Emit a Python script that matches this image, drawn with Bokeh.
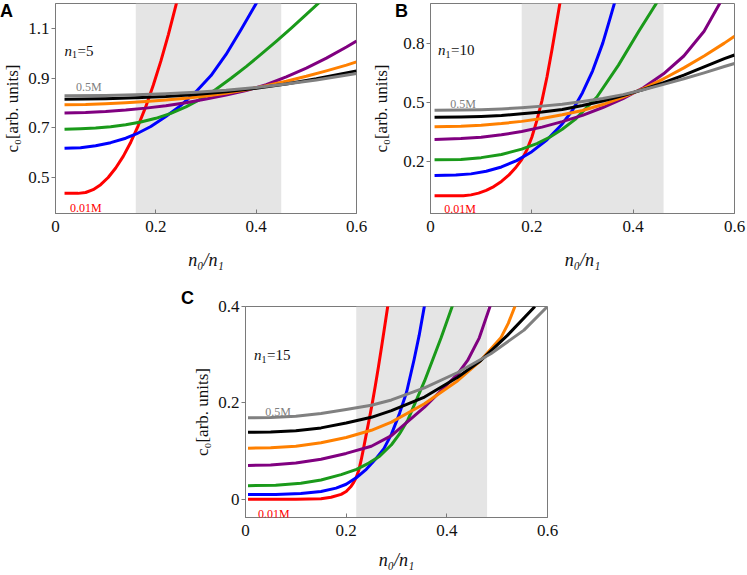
from bokeh.plotting import figure
from bokeh.models import Range1d, FixedTicker, CustomJSTickFormatter, Label, BoxAnnotation, Spacer, Div
from bokeh.layouts import row, column
from bokeh.embed import file_html
from bokeh.resources import INLINE

# ---------------- data ----------------
X_TICKS = [0, 0.2, 0.4, 0.6]
A_Y_TICKS = [0.5, 0.7, 0.9, 1.1]
B_Y_TICKS = [0.2, 0.5, 0.8]
C_Y_TICKS = [0, 0.2, 0.4]

A_SHADE = [0.16, 0.45]
B_SHADE = [0.18, 0.46]
C_SHADE = [0.22, 0.48]

PANEL_LETTERS = ["A", "B", "C"]
SERIES_LABELS = ["0.01M", "0.5M"]
N1_VALUES = ["5", "10", "15"]
COLORS = ["#ff0000", "#0000ff", "#1a9a1a", "#800080", "#ff8000", "#000000", "#808080"]

# Panel A (n1 = 5)
A_RED_X = [0.018, 0.03, 0.045, 0.06, 0.075, 0.09, 0.105, 0.12, 0.135, 0.15, 0.165, 0.18, 0.195, 0.21, 0.225, 0.24, 0.25]
A_RED_Y = [0.436, 0.436, 0.436, 0.4395, 0.451, 0.471, 0.500, 0.538, 0.585, 0.642, 0.709, 0.785, 0.872, 0.968, 1.075, 1.192, 1.275]
A_BLUE_X = [0.018, 0.05, 0.08, 0.11, 0.14, 0.161, 0.19, 0.22, 0.25, 0.28, 0.31, 0.34, 0.37, 0.40, 0.41]
A_BLUE_Y = [0.618, 0.620, 0.628, 0.640, 0.658, 0.675, 0.705, 0.745, 0.79, 0.845, 0.91, 0.995, 1.095, 1.20, 1.235]
A_GREEN_X = [0.018, 0.05, 0.08, 0.11, 0.14, 0.17, 0.20, 0.23, 0.26, 0.29, 0.32, 0.35, 0.38, 0.41, 0.44, 0.47, 0.50, 0.53, 0.545]
A_GREEN_Y = [0.694, 0.696, 0.699, 0.704, 0.712, 0.723, 0.738, 0.758, 0.784, 0.816, 0.855, 0.899, 0.946, 0.996, 1.048, 1.101, 1.156, 1.212, 1.24]
A_PURPLE_X = [0.018, 0.06, 0.10, 0.14, 0.18, 0.22, 0.26, 0.30, 0.34, 0.38, 0.42, 0.46, 0.50, 0.54, 0.58, 0.60]
A_PURPLE_Y = [0.759, 0.761, 0.765, 0.771, 0.779, 0.789, 0.801, 0.816, 0.832, 0.850, 0.873, 0.905, 0.94, 0.98, 1.025, 1.049]
A_ORANGE_X = [0.018, 0.06, 0.10, 0.14, 0.18, 0.22, 0.26, 0.30, 0.34, 0.38, 0.42, 0.46, 0.50, 0.54, 0.58, 0.60]
A_ORANGE_Y = [0.793, 0.794, 0.797, 0.801, 0.806, 0.812, 0.819, 0.828, 0.839, 0.853, 0.869, 0.887, 0.907, 0.929, 0.952, 0.965]
A_BLACK_X = [0.018, 0.10, 0.16, 0.22, 0.28, 0.34, 0.40, 0.46, 0.52, 0.60]
A_BLACK_Y = [0.815, 0.817, 0.821, 0.826, 0.834, 0.845, 0.859, 0.876, 0.897, 0.929]
A_GRAY_X = [0.018, 0.10, 0.16, 0.22, 0.28, 0.34, 0.40, 0.46, 0.52, 0.60]
A_GRAY_Y = [0.829, 0.830, 0.833, 0.837, 0.843, 0.851, 0.862, 0.876, 0.892, 0.918]

# Panel B (n1 = 10)
B_RED_X = [0.008, 0.05, 0.065, 0.08, 0.095, 0.11, 0.125, 0.14, 0.155, 0.167, 0.18, 0.19, 0.20, 0.21, 0.22, 0.23, 0.24, 0.25, 0.256]
B_RED_Y = [0.029, 0.029, 0.030, 0.034, 0.043, 0.057, 0.076, 0.102, 0.135, 0.168, 0.212, 0.26, 0.325, 0.41, 0.51, 0.63, 0.77, 0.92, 1.01]
B_BLUE_X = [0.008, 0.05, 0.08, 0.11, 0.14, 0.17, 0.20, 0.23, 0.26, 0.28, 0.30, 0.32, 0.34, 0.355, 0.364]
B_BLUE_Y = [0.132, 0.134, 0.140, 0.153, 0.175, 0.207, 0.252, 0.312, 0.392, 0.46, 0.55, 0.66, 0.80, 0.93, 1.01]
B_GREEN_X = [0.008, 0.06, 0.10, 0.14, 0.18, 0.21, 0.236, 0.26, 0.2856, 0.3284, 0.371, 0.4105, 0.448]
B_GREEN_Y = [0.211, 0.213, 0.222, 0.238, 0.265, 0.293, 0.326, 0.365, 0.415, 0.528, 0.689, 0.857, 1.01]
B_PURPLE_X = [0.008, 0.06, 0.10, 0.14, 0.18, 0.22, 0.26, 0.30, 0.34, 0.38, 0.42, 0.46, 0.50, 0.54, 0.573]
B_PURPLE_Y = [0.314, 0.318, 0.325, 0.337, 0.354, 0.376, 0.404, 0.435, 0.475, 0.52, 0.575, 0.645, 0.735, 0.86, 1.01]
B_ORANGE_X = [0.008, 0.06, 0.10, 0.14, 0.18, 0.22, 0.26, 0.30, 0.34, 0.38, 0.42, 0.46, 0.50, 0.54, 0.58, 0.60]
B_ORANGE_Y = [0.378, 0.381, 0.386, 0.394, 0.405, 0.42, 0.438, 0.46, 0.49, 0.527, 0.57, 0.62, 0.675, 0.735, 0.80, 0.835]
B_BLACK_X = [0.008, 0.06, 0.10, 0.14, 0.18, 0.22, 0.26, 0.30, 0.34, 0.38, 0.42, 0.46, 0.50, 0.54, 0.58, 0.60]
B_BLACK_Y = [0.4256, 0.427, 0.430, 0.435, 0.443, 0.452, 0.465, 0.485, 0.508, 0.535, 0.566, 0.600, 0.638, 0.68, 0.722, 0.74]
B_GRAY_X = [0.008, 0.06, 0.10, 0.14, 0.18, 0.22, 0.26, 0.30, 0.34, 0.38, 0.42, 0.46, 0.50, 0.54, 0.58, 0.60]
B_GRAY_Y = [0.461, 0.462, 0.464, 0.468, 0.474, 0.482, 0.492, 0.505, 0.52, 0.54, 0.565, 0.592, 0.62, 0.65, 0.682, 0.697]

# Panel C (n1 = 15)
C_RED_X = [0.005, 0.10, 0.15, 0.17, 0.19, 0.20, 0.21, 0.215, 0.22, 0.225, 0.23, 0.235, 0.24, 0.246, 0.252, 0.258, 0.264, 0.27, 0.276, 0.284]
C_RED_Y = [0.0, 0.0, 0.001, 0.004, 0.010, 0.016, 0.027, 0.035, 0.045, 0.060, 0.082, 0.108, 0.135, 0.167, 0.20, 0.236, 0.274, 0.314, 0.355, 0.41]
C_BLUE_X = [0.005, 0.06, 0.11, 0.15, 0.18, 0.20, 0.2206, 0.24, 0.26, 0.275, 0.29, 0.305, 0.32, 0.335, 0.345, 0.357]
C_BLUE_Y = [0.0096, 0.010, 0.012, 0.016, 0.023, 0.031, 0.045, 0.062, 0.085, 0.105, 0.135, 0.175, 0.222, 0.29, 0.34, 0.41]
C_GREEN_X = [0.005, 0.06, 0.11, 0.15, 0.19, 0.2206, 0.245, 0.265, 0.29, 0.3056, 0.3228, 0.3556, 0.3886, 0.414]
C_GREEN_Y = [0.028, 0.029, 0.033, 0.040, 0.051, 0.062, 0.075, 0.088, 0.113, 0.135, 0.165, 0.245, 0.335, 0.41]
C_PURPLE_X = [0.005, 0.05, 0.10, 0.15, 0.20, 0.25, 0.29, 0.3556, 0.4216, 0.4413, 0.4645, 0.489]
C_PURPLE_Y = [0.070, 0.071, 0.075, 0.083, 0.095, 0.110, 0.132, 0.191, 0.26, 0.288, 0.335, 0.41]
C_ORANGE_X = [0.005, 0.05, 0.10, 0.15, 0.20, 0.25, 0.29, 0.3556, 0.4216, 0.4645, 0.5073, 0.522, 0.539]
C_ORANGE_Y = [0.106, 0.107, 0.110, 0.117, 0.128, 0.143, 0.160, 0.198, 0.246, 0.285, 0.335, 0.365, 0.41]
C_BLACK_X = [0.005, 0.05, 0.10, 0.15, 0.20, 0.25, 0.29, 0.3556, 0.4216, 0.4676, 0.5203, 0.575]
C_BLACK_Y = [0.139, 0.1395, 0.142, 0.148, 0.158, 0.170, 0.184, 0.212, 0.253, 0.288, 0.34, 0.40]
C_GRAY_X = [0.005, 0.05, 0.10, 0.15, 0.20, 0.25, 0.29, 0.3556, 0.4216, 0.4874, 0.5533, 0.60]
C_GRAY_Y = [0.169, 0.1695, 0.172, 0.178, 0.186, 0.195, 0.206, 0.231, 0.263, 0.302, 0.351, 0.40]

A_CURVES = [(A_RED_X, A_RED_Y), (A_BLUE_X, A_BLUE_Y), (A_GREEN_X, A_GREEN_Y), (A_PURPLE_X, A_PURPLE_Y),
            (A_ORANGE_X, A_ORANGE_Y), (A_BLACK_X, A_BLACK_Y), (A_GRAY_X, A_GRAY_Y)]
B_CURVES = [(B_RED_X, B_RED_Y), (B_BLUE_X, B_BLUE_Y), (B_GREEN_X, B_GREEN_Y), (B_PURPLE_X, B_PURPLE_Y),
            (B_ORANGE_X, B_ORANGE_Y), (B_BLACK_X, B_BLACK_Y), (B_GRAY_X, B_GRAY_Y)]
C_CURVES = [(C_RED_X, C_RED_Y), (C_BLUE_X, C_BLUE_Y), (C_GREEN_X, C_GREEN_Y), (C_PURPLE_X, C_PURPLE_Y),
            (C_ORANGE_X, C_ORANGE_Y), (C_BLACK_X, C_BLACK_Y), (C_GRAY_X, C_GRAY_Y)]

SERIF = "Liberation Serif"
FRAME = "#7a7a7a"
TXT = "#111111"


def add_text(p, x, y, text, size, color=TXT, style="normal", font=SERIF, dx=0, dy=0):
    p.add_layout(Label(x=x, y=y, text=text, text_font=font, text_font_size=size,
                       text_color=color, text_font_style=style, x_offset=dx, y_offset=dy,
                       text_align="left", text_baseline="alphabetic"))


def make_panel(width, height, bl, br, bt, bb, yr, yticks, shade, curves,
               n1, n1_pos, m05_pos, m001_pos, ylab_standoff, xlab_standoff):
    p = figure(width=width, height=height, x_range=Range1d(0, 0.6), y_range=Range1d(yr[0], yr[1]),
               output_backend="svg", toolbar_location=None, title=None,
               min_border_left=bl, min_border_right=br, min_border_top=bt, min_border_bottom=bb)
    p.grid.visible = False
    p.outline_line_color = FRAME
    p.outline_line_width = 1
    p.background_fill_color = "white"
    p.border_fill_color = "white"
    p.add_layout(BoxAnnotation(left=shade[0], right=shade[1], fill_color="#e5e5e5", fill_alpha=1.0,
                               line_color=None, level="underlay"))
    for (xs, ys), c in zip(curves, COLORS):
        p.line(xs, ys, line_color=c, line_width=3, line_join="round")

    fmt = CustomJSTickFormatter(code="return tick === 0 ? '0' : tick.toFixed(1);")
    xa = p.xaxis[0]
    ya = p.yaxis[0]
    xa.ticker = FixedTicker(ticks=X_TICKS)
    ya.ticker = FixedTicker(ticks=yticks)
    for ax in (xa, ya):
        ax.formatter = fmt
        ax.axis_line_color = FRAME
        ax.major_tick_line_color = FRAME
        ax.minor_tick_line_color = None
        ax.major_label_text_font = SERIF
        ax.major_label_text_font_size = "17px"
        ax.major_label_text_color = TXT
        ax.axis_label_text_font = SERIF
        ax.axis_label_text_color = TXT
    xa.major_tick_in = 4
    xa.major_tick_out = 0
    xa.major_label_standoff = 7
    xa.axis_label = "n\u2080/n\u2081"
    xa.axis_label_text_font_size = "18px"
    xa.axis_label_text_font_style = "italic"
    xa.axis_label_standoff = xlab_standoff
    ya.major_tick_in = 0
    ya.major_tick_out = 4
    ya.major_label_standoff = 2
    ya.axis_label = "c\u2080[arb. units]"
    ya.axis_label_text_font_size = "17px"
    ya.axis_label_text_font_style = "normal"
    ya.axis_label_standoff = ylab_standoff

    # n1 label
    add_text(p, n1_pos[0], n1_pos[1], "n", "15px", style="italic")
    add_text(p, n1_pos[0], n1_pos[1], "1", "10px", dx=7.5, dy=-4)
    add_text(p, n1_pos[0], n1_pos[1], "=" + n1, "15px", dx=13)

    # concentration labels
    add_text(p, m05_pos[0], m05_pos[1], SERIES_LABELS[1], "12px", color="#808080")
    add_text(p, m001_pos[0], m001_pos[1], SERIES_LABELS[0], "12px", color="#ff0000")
    return p


def letter_div(text, left, top):
    return Div(text=text, width=20, height=22,
               styles={"position": "absolute", "left": f"{left}px", "top": f"{top}px",
                       "font-family": "Liberation Sans, Arial, sans-serif", "font-size": "18px",
                       "font-weight": "bold", "line-height": "18px", "color": "#000000",
                       "z-index": "10"})


# frames: A x 51-356, y 3-213 ; B x 430-734 ; C x 243-547, y 306-517
pA = make_panel(368, 280, 51, 12, 3, 67, (0.355, 1.2), A_Y_TICKS, A_SHADE, A_CURVES,
                N1_VALUES[0], (0.018, 1.009), (0.041, 0.864), (0.029, 0.378), 3, 15)
pB = make_panel(378, 280, 62, 12, 3, 67, (-0.06, 1.0), B_Y_TICKS, B_SHADE, B_CURVES,
                N1_VALUES[1], (0.015, 0.765), (0.039, 0.491), (0.027, -0.035), 9, 15)
pC = make_panel(370, 293, 53, 13, 26, 56, (-0.038, 0.4), C_Y_TICKS, C_SHADE, C_CURVES,
                N1_VALUES[2], (0.017, 0.299), (0.039, 0.18), (0.025, -0.031), 3, 11)

dA = letter_div(PANEL_LETTERS[0], -5, -3)
dB = letter_div(PANEL_LETTERS[1], 390, -3)
dC = letter_div(PANEL_LETTERS[2], 176, 284)

layout = column(row(pA, pB), row(Spacer(width=190, height=293), pC), dA, dB, dC)

open("out.html", "w").write(file_html(layout, INLINE))
